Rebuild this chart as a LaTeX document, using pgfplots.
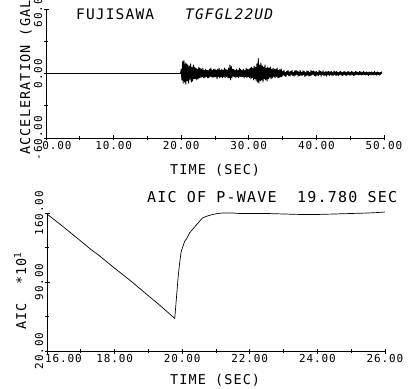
\documentclass[border=0pt]{standalone}
\usepackage{fontspec}
\setmainfont{DejaVu Sans Mono}[LetterSpace=8]
\usepackage{pgfplots}
\pgfplotsset{compat=1.18}
\pgfplotsset{myax/.style={
  scale only axis, width=338pt,
  axis x line=bottom, axis y line=left,
  axis line style={-, line width=0.8pt},
  tick align=center, major tick length=5pt, minor tick length=4pt,
  every tick/.style={black, line width=0.8pt},
  tick label style={font=\fontsize{11}{11}\selectfont},
  yticklabel style={rotate=90, anchor=south, inner sep=1pt},
  xticklabel style={anchor=north, inner sep=1pt},
  minor x tick num=1, minor y tick num=1,
  clip=false,
}}
\begin{document}
\begin{tikzpicture}
\begin{axis}[myax, at={(46pt,250pt)}, anchor=south west, height=129pt,
  xmin=0, xmax=50, ymin=-60, ymax=60,
  xtick={0,10,20,30,40,50},
  xticklabels={\hspace*{22pt}0.00,10.00,20.00,30.00,40.00,50.00},
  ytick={-60,0,60}, yticklabels={-60.00,0.00,60.00}]
\addplot[black, line width=0.9pt, line join=round] coordinates {
(0,0)(19.9,0)
(20.0,4)(20.1,-6)(20.2,11)(20.3,-9)(20.4,12)(20.5,-8)(20.6,10)(20.7,-10)(20.8,9)(20.9,-7)
(21.0,8)(21.1,-9)(21.2,7)(21.3,-6)(21.4,9)(21.5,-8)(21.6,6)(21.7,-7)(21.8,8)(21.9,-5)
(22.0,6)(22.1,-5)(22.2,5)(22.3,-6)(22.4,4)(22.5,-5)(22.6,6)(22.7,-4)(22.8,5)(22.9,-4)
(23.0,4)(23.1,-3)(23.2,5)(23.3,-4)(23.4,3)(23.5,-4)(23.6,4)(23.7,-3)(23.8,3)(23.9,-4)
(24.0,3)(24.1,-4)(24.2,4)(24.3,-3)(24.4,5)(24.5,-3)(24.6,3)(24.7,-4)(24.8,4)(24.9,-3)
(25.0,4)(25.1,-3)(25.2,3)(25.3,-5)(25.4,4)(25.5,-3)(25.6,5)(25.7,-4)(25.8,3)(25.9,-3)
(26.0,4)(26.1,-4)(26.2,3)(26.3,-3)(26.4,5)(26.5,-4)(26.6,4)(26.7,-3)(26.8,3)(26.9,-4)
(27.0,5)(27.1,-4)(27.2,8)(27.3,-6)(27.4,7)(27.5,-4)(27.6,4)(27.7,-3)(27.8,4)(27.9,-3)
(28.0,3)(28.1,-4)(28.2,4)(28.3,-3)(28.4,3)(28.5,-4)(28.6,5)(28.7,-3)(28.8,4)(28.9,-3)
(29.0,3)(29.1,-3)(29.2,4)(29.3,-4)(29.4,3)(29.5,-3)(29.6,5)(29.7,-4)(29.8,4)(29.9,-3)
(30.0,4)(30.1,-4)(30.2,5)(30.3,-5)(30.4,6)(30.5,-4)(30.6,5)(30.7,-6)(30.8,7)(30.9,-5)
(31.0,6)(31.1,-7)(31.2,9)(31.3,-8)(31.4,14)(31.5,-9)(31.6,8)(31.7,-7)(31.8,10)(31.9,-6)
(32.0,7)(32.1,-8)(32.2,6)(32.3,-5)(32.4,8)(32.5,-6)(32.6,5)(32.7,-7)(32.8,6)(32.9,-5)
(33.0,5)(33.1,-4)(33.2,6)(33.3,-5)(33.4,4)(33.5,-4)(33.6,5)(33.7,-3)(33.8,4)(33.9,-4)
(34.0,4)(34.1,-3)(34.2,5)(34.3,-4)(34.4,3)(34.5,-4)(34.6,4)(34.7,-3)(34.8,4)(34.9,-3)
(35.0,2)(35.1,-1.5)(35.2,3)(35.3,-2)(35.4,1)(35.5,-3)(35.6,2)(35.7,-1)(35.8,3)(35.9,-2)
(36.0,1.5)(36.1,-2.5)(36.2,2)(36.3,-1)(36.4,3)(36.5,-2)(36.6,1)(36.7,-2.5)(36.8,2.5)(36.9,-1.5)
(37.0,3)(37.1,-1)(37.2,2)(37.3,-2.5)(37.4,1.5)(37.5,-2)(37.6,3)(37.7,-1.5)(37.8,1)(37.9,-2)
(38.0,2.5)(38.1,-1)(38.2,2)(38.3,-3)(38.4,1)(38.5,-2)(38.6,2.5)(38.7,-1.5)(38.8,2)(38.9,-2.5)
(39.0,1)(39.1,-2)(39.2,3)(39.3,-1.5)(39.4,2)(39.5,-1)(39.6,2.5)(39.7,-2)(39.8,1.5)(39.9,-2.5)
(40.0,2)(40.1,-1.5)(40.2,1)(40.3,-2)(40.4,3)(40.5,-1)(40.6,2)(40.7,-2.5)(40.8,1.5)(40.9,-1)
(41.0,2.5)(41.1,-2)(41.2,1)(41.3,-1.5)(41.4,2)(41.5,-2.5)(41.6,1.5)(41.7,-1)(41.8,2)(41.9,-2)
(42.0,1.5)(42.1,-1)(42.2,2)(42.3,-2)(42.4,1)(42.5,-1.5)(42.6,2.5)(42.7,-1)(42.8,1.5)(42.9,-2)
(43.0,2)(43.1,-1.5)(43.2,1)(43.3,-2)(43.4,1.5)(43.5,-1)(43.6,2)(43.7,-1.5)(43.8,1)(43.9,-2)
(44.0,1.5)(44.1,-1)(44.2,2)(44.3,-1.5)(44.4,1)(44.5,-2)(44.6,1.5)(44.7,-1)(44.8,2)(44.9,-1.5)
(45.0,1)(45.1,-1.5)(45.2,2)(45.3,-1)(45.4,1.5)(45.5,-2)(45.6,1)(45.7,-1.5)(45.8,2)(45.9,-1)
(46.0,1.5)(46.1,-1)(46.2,1)(46.3,-1.5)(46.4,2)(46.5,-1)(46.6,1.5)(46.7,-1.5)(46.8,1)(46.9,-1)
(47.0,2)(47.1,-1)(47.2,1)(47.3,-1.5)(47.4,1.5)(47.5,-1)(47.6,1)(47.7,-2)(47.8,1.5)(47.9,-1)
(48.0,1)(48.1,-1.5)(48.2,1.5)(48.3,-1)(48.4,1)(48.5,-1.5)(48.6,2)(48.7,-1)(48.8,1)(48.9,-1.5)
(49.0,1.5)(49.1,-1)(49.2,1)(49.3,-1.5)(49.4,1)(49.5,-1)(49.6,1.5)(49.7,0)
};
\end{axis}
\begin{axis}[myax, at={(47pt,37pt)}, anchor=south west, height=138pt,
  xmin=16, xmax=26, ymin=20, ymax=160,
  xtick={16,18,20,22,24,26},
  xticklabels={\hspace*{33pt}16.00,18.00,20.00,22.00,24.00,26.00},
  ytick={20,90,160}, yticklabels={20.00,90.00,160.00}]
\addplot[black, line width=0.7pt] coordinates {
(16.0,159)(16.5,145.5)(17.0,131.5)(17.3,123)(17.5,118)(18.0,104)(18.5,90.5)
(19.0,76)(19.3,67.5)(19.5,61.5)(19.78,53)
(19.82,70)(19.88,95)(19.92,108)(19.97,121)(20.07,131)(20.15,135)(20.22,140)
(20.3,143)(20.42,148)(20.5,151)(20.6,155)(20.75,157)(20.9,158.5)(21.05,159.5)
(21.2,160)(21.5,160)(21.7,159.5)(22.0,159.5)(22.5,159.5)(23.0,159)(23.5,158.5)
(24.0,158.5)(24.5,159)(25.0,159.5)(25.5,160)(25.8,160.5)(26.0,161)
};
\end{axis}
\begin{scope}[every node/.style={inner sep=0pt}]
\node[anchor=base west, font=\fontsize{14.5}{14.5}\selectfont] at (76pt,368pt) {FUJISAWA};
\node[anchor=base west, font=\fontsize{14.5}{14.5}\selectfont\itshape] at (185pt,368pt) {TGFGL22UD};
\node[anchor=base west, font=\fontsize{13.5}{13.5}\selectfont] at (170pt,213pt) {TIME (SEC)};
\node[anchor=base west, rotate=90, font=\fontsize{13.5}{13.5}\selectfont] at (30pt,233pt) {ACCELERATION (GAL)};
\node[anchor=base west, font=\fontsize{15}{15}\selectfont] at (147pt,185pt) {AIC OF P-WAVE};
\node[anchor=base west, font=\fontsize{15}{15}\selectfont] at (297pt,185pt) {19.780 SEC};
\node[anchor=base west, font=\fontsize{13.5}{13.5}\selectfont] at (170pt,4pt) {TIME (SEC)};
\node[anchor=base west, rotate=90, font=\fontsize{13.5}{13.5}\selectfont] at (26pt,58pt) {AIC \ *10\textsuperscript{1}};
\end{scope}
\pgfresetboundingbox
\path[use as bounding box] (0,0) rectangle (409pt,388pt);
\end{tikzpicture}
\end{document}
